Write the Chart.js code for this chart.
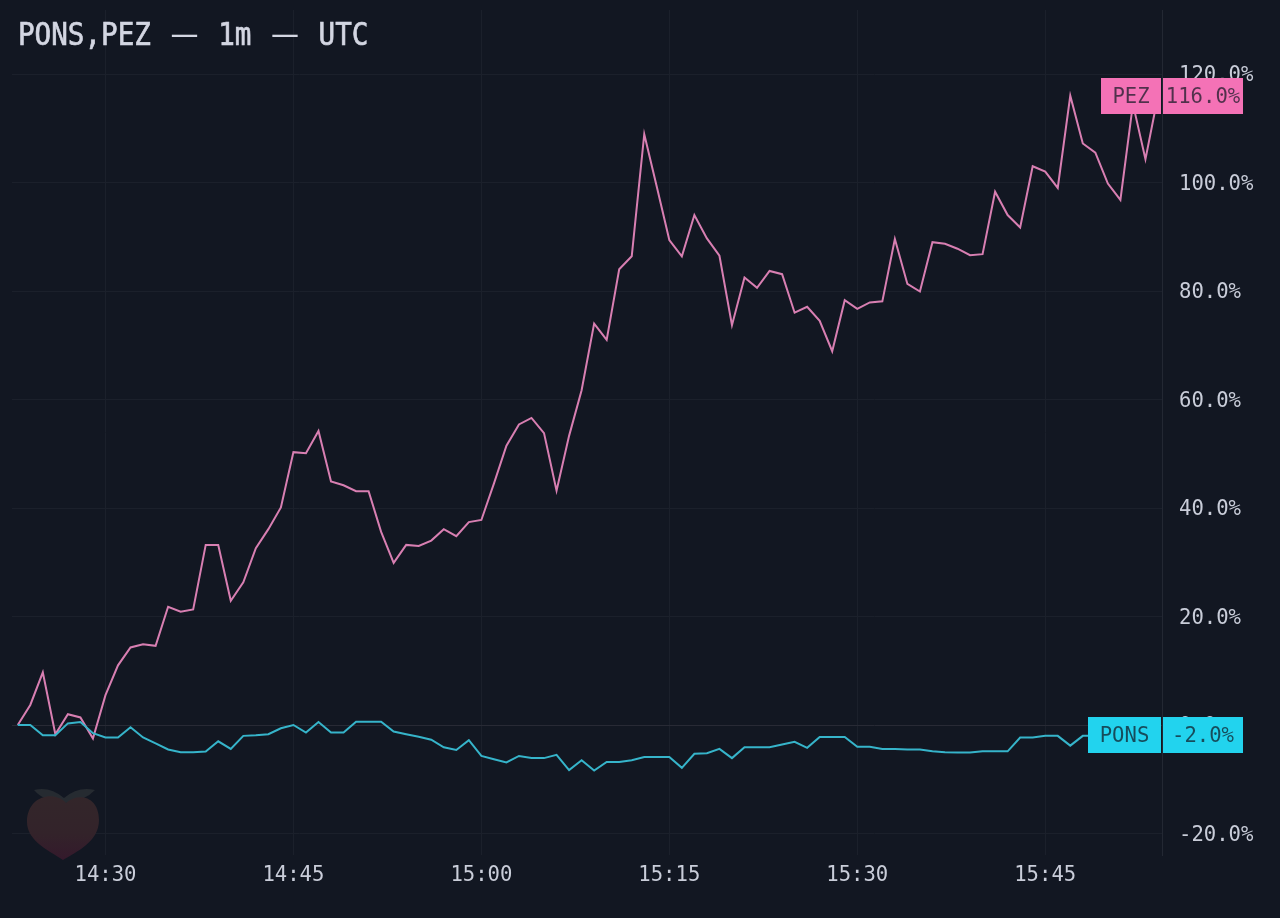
<!DOCTYPE html>
<html>
<head>
<meta charset="utf-8">
<title>PONS,PEZ</title>
<script src="https://cdn.jsdelivr.net/npm/chart.js"></script>
<style>
  html, body { margin: 0; padding: 0; background: #121722; overflow: hidden; }
  #wrap { position: relative; width: 1280px; height: 918px; }
  #title { position: absolute; left: 18px; top: 17px; font: 27.6px/36px 'DejaVu Sans Mono', monospace; word-spacing: 3px; color: #d3d6e2; white-space: pre; -webkit-text-stroke: 0.6px #d3d6e2; transform: scaleY(1.14); transform-origin: left center; }
  #title span { font: 28px/36px 'DejaVu Sans', sans-serif; -webkit-text-stroke: 0; }
</style>
</head>
<body>
<div id="wrap">
  <canvas id="chart" width="1280" height="918"></canvas>
  <div id="title">PONS,PEZ <span>—</span> 1m <span>—</span> UTC</div>
</div>
<script>
const startMinute = 23; // 14:23, minutes counted from 14:00

const pezValues = [
  0, 3.7, 9.7, -1.7, 2.0, 1.4, -2.5, 5.5, 11, 14.3,
  14.9, 14.6, 21.8, 20.9, 21.3, 33.2, 33.2, 22.9, 26.3, 32.6,
  36.1, 40.1, 50.3, 50.1, 54.2, 44.9, 44.2, 43.1, 43.1, 35.6,
  29.9, 33.2, 33.0, 34.0, 36.1, 34.8, 37.4, 37.8, 44.5, 51.5,
  55.4, 56.6, 53.8, 43.2, 53.3, 61.7, 74.0, 71, 84, 86.4,
  108.9, 99.2, 89.4, 86.4, 94, 89.7, 86.5, 73.7, 82.5, 80.6,
  83.7, 83.1, 76, 77.1, 74.5, 68.9, 78.3, 76.7, 77.9, 78.1,
  89.6, 81.3, 79.9, 89, 88.7, 87.8, 86.6, 86.8, 98.3, 94,
  91.7, 103, 102, 99, 116, 107.2, 105.5, 99.8, 96.8, 114.5,
  104.3, 116
];

const ponsValues = [
  0, 0, -1.9, -1.9, 0.3, 0.55, -1.5, -2.3, -2.3, -0.4,
  -2.3, -3.4, -4.5, -5, -5, -4.9, -3.0, -4.4, -2, -1.9,
  -1.7, -0.6, 0, -1.4, 0.55, -1.4, -1.4, 0.6, 0.6, 0.6,
  -1.2, -1.7, -2.15, -2.7, -4.1, -4.6, -2.8, -5.7, -6.3, -6.9,
  -5.7, -6.1, -6.1, -5.5, -8.3, -6.5, -8.4, -6.8, -6.8, -6.5,
  -5.9, -5.9, -5.9, -7.9, -5.3, -5.2, -4.4, -6.1, -4.1, -4.1,
  -4.1, -3.6, -3.1, -4.2, -2.2, -2.2, -2.2, -4, -4, -4.4,
  -4.4, -4.5, -4.5, -4.85, -5, -5.05, -5.05, -4.85, -4.85, -4.85,
  -2.3, -2.3, -2.0, -2.0, -3.8, -2.0, -2.0, -2.0, -2.0, -2.0,
  -2.0, -2.0
];

const yTickValues = [-20, 0, 20, 40, 60, 80, 100, 120];
const xTickValues = [30, 45, 60, 75, 90, 105];
const xTickLabels = ['14:30', '14:45', '15:00', '15:15', '15:30', '15:45'];

const pezColor = '#f472b6';
const ponsColor = '#22d3ee';
const gridColor = '#1b202b';
const textColor = '#c9cdd9';
const monoFont = "'DejaVu Sans Mono', monospace";

const toPoints = (values) => values.map((v, i) => ({ x: startMinute + i, y: v }));

// Price tags on the right edge, painted over the axis labels
function drawTag(ctx, scale, value, name, valueText, color, nameLeft, centerOffset) {
  const yMid = scale.getPixelForValue(value) + centerOffset;
  const top = Math.round(yMid - 18);
  ctx.save();
  ctx.fillStyle = color;
  ctx.fillRect(nameLeft, top, 1161 - nameLeft, 36);
  ctx.fillRect(1163, top, 80, 36);
  ctx.fillStyle = 'rgba(18,23,34,0.72)';
  ctx.font = '20.6px ' + monoFont;
  ctx.textAlign = 'center';
  ctx.textBaseline = 'middle';
  ctx.fillText(name, (nameLeft + 1161) / 2, top + 20);
  ctx.fillText(valueText, 1203, top + 20);
  ctx.restore();
}

// Faint peach watermark, bottom left
function drawPeach(ctx) {
  ctx.save();
  ctx.fillStyle = '#262b31';
  ctx.beginPath();
  ctx.moveTo(34, 790);
  ctx.quadraticCurveTo(50, 786, 64, 798);
  ctx.quadraticCurveTo(78, 786, 95, 790);
  ctx.quadraticCurveTo(86, 800, 66, 803);
  ctx.quadraticCurveTo(44, 802, 34, 790);
  ctx.fill();
  const g = ctx.createLinearGradient(0, 795, 0, 860);
  g.addColorStop(0, '#33262a');
  g.addColorStop(0.6, '#33232a');
  g.addColorStop(1, '#34192c');
  ctx.fillStyle = g;
  ctx.beginPath();
  ctx.moveTo(66, 803);
  ctx.bezierCurveTo(54, 790, 27, 796, 27, 822);
  ctx.bezierCurveTo(27, 842, 52, 852, 63, 860);
  ctx.bezierCurveTo(76, 852, 99, 842, 99, 820);
  ctx.bezierCurveTo(99, 796, 78, 792, 66, 803);
  ctx.fill();
  ctx.restore();
}

const overlayPlugin = {
  id: 'overlay',
  beforeDatasetsDraw(chart) {
    drawPeach(chart.ctx);
  },
  afterDraw(chart) {
    const y = chart.scales.y;
    drawTag(chart.ctx, y, 116, 'PEZ', '116.0%', pezColor, 1101, 0);
    drawTag(chart.ctx, y, -2, 'PONS', '-2.0%', ponsColor, 1088, -1);
  }
};

new Chart(document.getElementById('chart'), {
  type: 'line',
  data: {
    datasets: [
      { label: 'PONS', data: toPoints(ponsValues), borderColor: '#36b4ca', borderWidth: 2, pointRadius: 0, tension: 0 },
      { label: 'PEZ', data: toPoints(pezValues), borderColor: '#d87fb2', borderWidth: 2, pointRadius: 0, tension: 0 }
    ]
  },
  options: {
    responsive: false,
    animation: false,
    layout: { padding: { left: 12, top: 10, right: 0, bottom: 0 } },
    plugins: { legend: { display: false }, tooltip: { enabled: false } },
    scales: {
      x: {
        type: 'linear',
        min: 22.54,
        max: 114.32,
        afterBuildTicks: (axis) => { axis.ticks = xTickValues.map(v => ({ value: v })); },
        afterFit: (axis) => { axis.height = 63; axis.paddingLeft = 0; axis.paddingRight = 0; },
        grid: { color: gridColor, drawTicks: false, lineWidth: 1 },
        border: { display: false },
        ticks: {
          color: textColor,
          font: { family: monoFont, size: 20.6 },
          padding: 8,
          maxRotation: 0,
          autoSkip: false,
          callback: (v) => xTickLabels[xTickValues.indexOf(v)]
        }
      },
      y: {
        position: 'right',
        min: -23.96,
        max: 131.8,
        afterBuildTicks: (axis) => { axis.ticks = yTickValues.map(v => ({ value: v })); },
        afterFit: (axis) => { axis.width = 118; axis.paddingTop = 0; axis.paddingBottom = 0; },
        grid: {
          color: (c) => (c.tick && c.tick.value === 0 ? '#282a35' : gridColor),
          drawTicks: false,
          lineWidth: 1
        },
        border: { display: true, color: '#232833', width: 1 },
        ticks: {
          color: textColor,
          font: { family: monoFont, size: 20.6 },
          padding: 17,
          labelOffset: 2,
          autoSkip: false,
          callback: (v) => v.toFixed(1) + '%'
        }
      }
    }
  },
  plugins: [overlayPlugin]
});
</script>
</body>
</html>
